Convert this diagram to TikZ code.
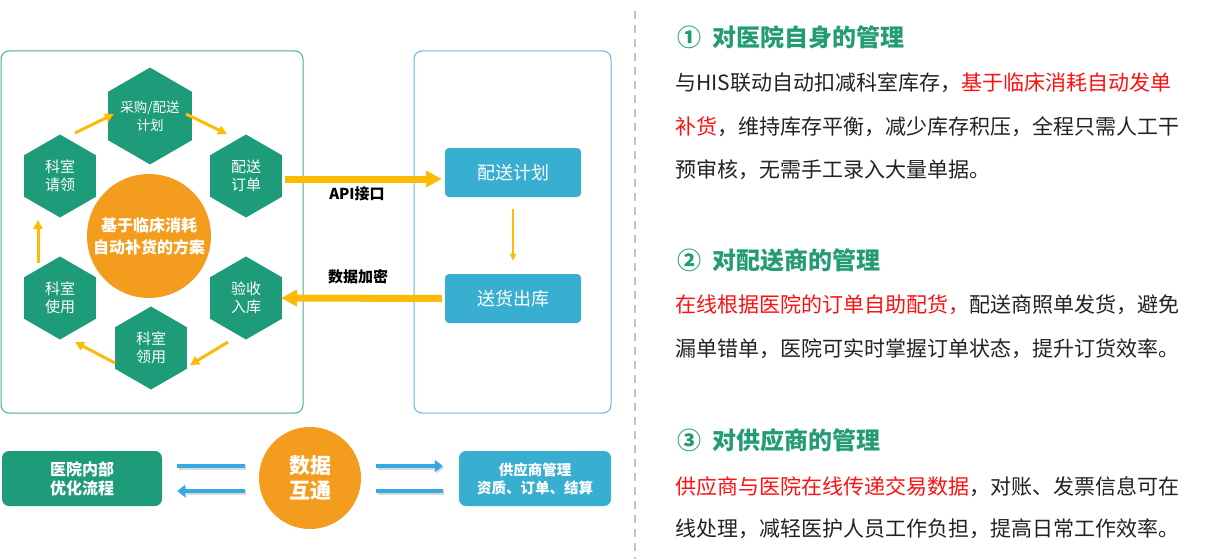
\documentclass[tikz,border=0pt]{standalone}
\usepackage{fontspec}
\setmainfont{Noto Sans CJK SC}
\usetikzlibrary{shapes.geometric,arrows.meta,calc}
\definecolor{hexgreen}{HTML}{1E9B78}
\definecolor{panelgreen}{HTML}{4AAE8C}
\definecolor{panelblue}{HTML}{5CBCD7}
\definecolor{boxblue}{HTML}{38AFD1}
\definecolor{orangec}{HTML}{F39C1E}
\definecolor{yel}{HTML}{FCBB07}
\definecolor{barblue}{HTML}{35AAE2}
\definecolor{headgreen}{HTML}{239C76}
\definecolor{txt}{HTML}{222222}
\definecolor{redt}{HTML}{FF1010}
\definecolor{divgray}{HTML}{C3C3C3}
\begin{document}
\begin{tikzpicture}[x=1pt,y=-1pt,
  hexn/.style={regular polygon, regular polygon sides=6, shape border rotate=30,
    minimum size=83pt, inner sep=0pt, fill=hexgreen, text=white, align=center,
    font=\fontsize{15}{18}\selectfont},
  panel/.style={draw, line width=1pt, rounded corners=8pt},
  yarr/.style={draw=yel, line width=3pt, -{Triangle[length=9pt,width=9pt]}},
  bigarr/.style={draw=yel, line width=7pt, -{Triangle[length=16pt,width=16pt]}},
  thinarr/.style={draw=yel, line width=2pt, -{Triangle[length=7pt,width=6pt]}},
  bluebox/.style={fill=boxblue, rounded corners=4pt, text=white, inner sep=0pt,
    minimum width=136pt, minimum height=49pt, font=\fontsize{18}{22}\selectfont},
  lbl/.style={text=black, font=\bfseries\fontsize{15}{18}\selectfont},
  barr/.style={draw=barblue, line width=4pt,
    preaction={draw=black!15, line width=5pt, transform canvas={xshift=1.5pt,yshift=-1.5pt}}},
  bhead/.style={-{Triangle[length=8pt,width=12pt]}},
  bothead/.style={rounded corners=7pt, text=white, align=center, inner sep=0pt,
    minimum height=55pt, font=\bfseries\fontsize{16}{19}\selectfont},
  head/.style={anchor=base west, text=headgreen, font=\bfseries\fontsize{24}{28}\selectfont},
  body/.style={anchor=base west, text=txt, font=\fontsize{21}{25}\selectfont, inner sep=0pt}
]
\useasboundingbox (0,0) rectangle (1206,559);

% panels
\draw[panel, draw=panelgreen] (1,51) rectangle (303,413);
\draw[panel, draw=panelblue] (414,51) rectangle (611,413);

% hexagons
\node[hexn, font=\fontsize{13.5}{18}\selectfont] (h1) at (150,116) {采购/配送\\计划};
\node[hexn] (h2) at (246,176) {配送\\订单};
\node[hexn] (h3) at (246,298) {验收\\入库};
\node[hexn] (h4) at (151,348) {科室\\领用};
\node[hexn] (h5) at (60,298) {科室\\使用};
\node[hexn] (h6) at (60,176) {科室\\请领};

% centre circle
\node[circle, fill=orangec, minimum size=124pt, inner sep=0pt, text=white, align=center,
  font=\bfseries\fontsize{16}{22}\selectfont] (c) at (149,236) {基于临床消耗\\自动补货的方案};

% cycle arrows
\draw[yarr] ([shift={(15,-43)}]h6.center) -- ([shift={(-36,-2)}]h1.center);
\draw[yarr] ([shift={(36,-2)}]h1.center) -- ([shift={(-19,-42)}]h2.center);
\draw[yarr] ([shift={(-18,44)}]h3.center) -- ([shift={(39,17)}]h4.center);
\draw[yarr] ([shift={(-36,15)}]h4.center) -- ([shift={(15,44)}]h5.center);
\draw[yarr] ([shift={(-22,-35)}]h5.center) -- ([shift={(-22,44)}]h6.center);

% right boxes
\node[bluebox] (p1) at (513,172.5) {配送计划};
\node[bluebox] (p2) at (513,298.5) {送货出库};
\draw[thinarr] ([yshift=-12pt]p1.south) -- ([yshift=13pt]p2.north);

% big arrows
\draw[bigarr] ([shift={(39,3)}]h2.center) -- ([shift={(-3,6.5)}]p1.west);
\draw[bigarr] ([shift={(-3,0)}]p2.west) -- ([shift={(35,0)}]h3.center);
\node[lbl] (l1) at (357,194) {API接口};
\node[lbl] (l2) at (358,277) {数据加密};

% bottom row
\node[bothead, fill=hexgreen, minimum width=160pt] (b1) at (82,478.5) {医院内部\\优化流程};
\node[circle, fill=orangec, minimum size=102pt, inner sep=0pt, text=white, align=center,
  font=\bfseries\fontsize{21}{25}\selectfont] (c2) at (310,478) {数据\\互通};
\node[bothead, fill=boxblue, minimum width=152pt, font=\bfseries\fontsize{14.5}{18}\selectfont] (b2) at (535,478.5) {供应商管理\\资质、订单、结算};

\draw[barr] ([shift={(15,-12.5)}]b1.east) -- ([shift={(-14,-12)}]c2.west);
\draw[barr, bhead] ([shift={(-14,13)}]c2.west) -- ([shift={(15,12.5)}]b1.east);
\draw[barr, bhead] ([shift={(15,-12)}]c2.east) -- ([shift={(-16,-12.5)}]b2.west);
\draw[barr] ([shift={(15,13)}]c2.east) -- ([shift={(-16,12.5)}]b2.west);

% divider
\draw[divgray, line width=2pt, dash pattern=on 8pt off 6pt] (635,11) -- (635,559);

% right text
\node[head] (t1) at (674,47) {①\hspace{11pt}对医院自身的管理};
\node[body] (t1a) at (675,91) {与HIS联动自动扣减科室库存，\textcolor{redt}{基于临床消耗自动发单}};
\node[body] (t1b) at (675,134) {\textcolor{redt}{补货}，维持库存平衡，减少库存积压，全程只需人工干};
\node[body] (t1c) at (675,177) {预审核，无需手工录入大量单据。};

\node[head] (t2) at (674,269) {②\hspace{11pt}对配送商的管理};
\node[body] (t2a) at (675,312) {\textcolor{redt}{在线根据医院的订单自助配货，}配送商照单发货，避免};
\node[body] (t2b) at (675,356) {漏单错单，医院可实时掌握订单状态，提升订货效率。};

\node[head] (t3) at (674,449) {③\hspace{11pt}对供应商的管理};
\node[body] (t3a) at (675,494) {\textcolor{redt}{供应商与医院在线传递交易数据}，对账、发票信息可在};
\node[body] (t3b) at (675,536) {线处理，减轻医护人员工作负担，提高日常工作效率。};
\end{tikzpicture}
\end{document}
